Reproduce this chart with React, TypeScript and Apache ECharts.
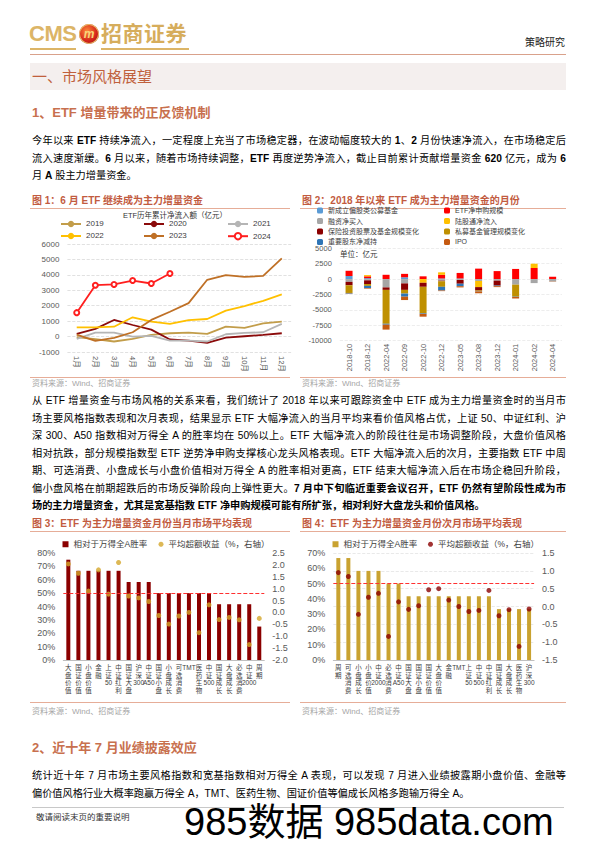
import React, { useEffect, useRef } from "react";
import * as echarts from "echarts";

const FONT = '"Liberation Sans", "Noto Sans CJK SC", sans-serif';

// ---------- Chart 1 data ----------
const months = ["1月", "2月", "3月", "4月", "5月", "6月", "7月", "8月", "9月", "10月", "11月", "12月"];
const flow2019 = [-40, -170, -320, -150, 110, 215, 260, 170, 645, 560, 860, 970];
const flow2020 = [170, 500, 1075, 750, 450, -190, -260, -410, -70, 20, 110, 215];
const flow2021 = [-150, 260, 260, 0, 40, -260, -260, -320, 150, 240, 280, 820];
const flow2022 = [600, 600, 640, 1250, 970, 820, 1070, 1140, 1680, 1980, 2320, 2730];
const flow2023 = [130, -280, -90, 280, 1080, 1610, 2170, 3680, 3980, 3870, 3930, 5070];
const flow2024 = [1550, 3330, 3380, 3630, 3440, 4090];

// ---------- Chart 2 data ----------
const periods = ["2018-10", "2018-12", "2022-04", "2022-09", "2022-10", "2022-12", "2023-05", "2023-08", "2023-12", "2024-01", "2024-02", "2024-04"];
const newFunds = [500, 150, 0, 300, 0, 100, 100, 0, 0, 0, 0, 0];
const etfNet = [850, 300, 700, 550, 450, 600, 900, 1700, 1300, 1650, 1800, 400];
const margin = [-450, -200, -1350, -700, 0, -250, -150, -300, -250, -900, -650, -400];
const northbound = [0, 200, 0, 0, -600, 400, 0, -1000, 0, 0, 700, 0];
const insurance = [-550, -600, -400, -1050, -650, -100, -600, -550, -800, 0, 0, 0];
const privateFunds = [-1250, -300, -5500, -600, -4300, -900, 0, -100, 0, -1950, 0, 0];
const holderReduce = [-100, -350, -150, -500, -100, -600, -400, -50, -100, -50, 0, 0];
const ipo = [-50, -100, -800, -550, -450, -100, -200, -300, -150, -250, 0, -50];

// ---------- Chart 3 data ----------
const cats3 = ["大盘价值", "国证价值", "小盘价值", "金融", "上证50", "中证红利", "国证大盘", "沪深300", "中证A50", "国证小盘", "小盘成长", "可选消费", "TMT", "医药生物", "中证500", "国证成长", "大盘成长", "必选消费", "中证2000", "周期"];
const win3 = [75, 66.7, 66.7, 66.7, 66.7, 66.7, 58.3, 58.3, 58.3, 50, 50, 50, 50, 50, 50, 41.7, 41.7, 41.7, 41.7, 25];
const excess3 = [2.04, 1.65, 0.9, 1.79, 0.77, 2.1, 0.69, 0.61, 0.46, -0.13, -0.49, -0.15, 0.0, -0.85, 0.32, -0.3, -0.21, -0.31, -1.35, -0.25];

// ---------- Chart 4 data ----------
const cats4 = ["周期", "可选消费", "小盘成长", "小盘价值", "中证2000", "必选消费", "中证A50", "国证大盘", "国证小盘", "国证价值", "大盘价值", "金融", "TMT", "上证50", "中证500", "中证红利", "国证成长", "大盘成长", "医药生物", "沪深300"];
const win4 = [66.7, 66.7, 58.3, 58.3, 58.3, 50, 50, 41.7, 41.7, 41.7, 41.7, 41.7, 41.7, 41.7, 41.7, 41.7, 33.3, 33.3, 33.3, 33.3];
const excess4 = [0.95, 0.84, -0.22, 0.26, 0.37, -0.84, 0.13, -0.08, 0.02, 0.47, 0.5, 0.18, 0.0, -0.14, -0.11, 0.45, -0.26, -0.09, -1.12, -0.07];

const vert = (s: string) => (s.match(/[A-Za-z0-9]+|./g) || []).join("\n");
const plain = (v: number) => String(v);
const AX = "#595959";

const lineSeries = (name: string, data: number[], color: string) => ({
  name, type: "line", data, symbol: "none", lineStyle: { width: 1.8, color }, itemStyle: { color },
});

const option1: any = {
  animation: false,
  textStyle: { fontFamily: FONT },
  graphic: [{ type: "text", x: 145, y: 7, style: { text: "ETF历年累计净流入额（亿元）", align: "center", verticalAlign: "middle", fontSize: 7.5, fill: "#333", fontFamily: FONT } }],
  legend: [
    { data: ["2019", "2022"], left: 30, top: 12, orient: "vertical", itemWidth: 20, itemHeight: 8, itemGap: 4, padding: 0, textStyle: { fontSize: 8, color: "#404040" } },
    { data: ["2020", "2023"], left: 113, top: 12, orient: "vertical", itemWidth: 20, itemHeight: 8, itemGap: 4, padding: 0, textStyle: { fontSize: 8, color: "#404040" } },
    { data: ["2021", "2024"], left: 197, top: 12, orient: "vertical", itemWidth: 20, itemHeight: 8, itemGap: 4, padding: 0, textStyle: { fontSize: 8, color: "#404040" } },
  ],
  grid: { left: 37.4, right: 2.9, top: 36, bottom: 26 },
  xAxis: {
    type: "category", data: months, boundaryGap: true,
    axisLine: { show: false, onZero: false }, axisTick: { show: false },
    axisLabel: { rotate: -90, fontSize: 7.5, color: AX, margin: 4, interval: 0 },
  },
  yAxis: {
    type: "value", min: -1000, max: 6000, interval: 1000,
    axisLabel: { fontSize: 8, color: AX, margin: 8, formatter: plain },
    axisLine: { show: false }, axisTick: { show: false },
    splitLine: { lineStyle: { type: "dashed", color: "#d9d9d9", width: 0.8 } },
  },
  series: [
    lineSeries("2019", flow2019, "#c29d4a"),
    lineSeries("2020", flow2020, "#8b0a0a"),
    lineSeries("2021", flow2021, "#b5b5b5"),
    lineSeries("2022", flow2022, "#ffc000"),
    lineSeries("2023", flow2023, "#bf7026"),
    { name: "2024", type: "line", data: flow2024, symbol: "emptyCircle", symbolSize: 5, lineStyle: { width: 1.8, color: "#ff1f1f" }, itemStyle: { color: "#ff1f1f", borderWidth: 1 } },
  ],
};

const barSeries = (name: string, data: number[], color: string) => ({
  name, type: "bar", stack: "total", data, barWidth: 7, itemStyle: { color },
});

const option2: any = {
  animation: false,
  textStyle: { fontFamily: FONT },
  graphic: [{ type: "text", x: 40, y: 50, style: { text: "单位：亿元", verticalAlign: "middle", fontSize: 7.5, fill: "#333", fontFamily: FONT } }],
  legend: [
    { data: ["新成立偏股类公募基金", "融资净买入", "保险投资股票及基金规模变化", "重要股东净减持"], left: 17, top: 3, orient: "vertical", itemWidth: 6, itemHeight: 6, itemGap: 3.5, padding: 0, textStyle: { fontSize: 7, color: "#404040" } },
    { data: ["ETF净申购规模", "陆股通净流入", "私募基金管理规模变化", "IPO"], left: 144, top: 3, orient: "vertical", itemWidth: 6, itemHeight: 6, itemGap: 3.5, padding: 0, textStyle: { fontSize: 7, color: "#404040" } },
  ],
  grid: { left: 39.8, right: 4.1, top: 44.3, bottom: 37.3 },
  xAxis: {
    type: "category", data: periods,
    axisLine: { show: false, onZero: false }, axisTick: { show: false },
    axisLabel: { rotate: 90, fontSize: 7.5, color: AX, margin: 3, interval: 0 },
  },
  yAxis: {
    type: "value", min: -10000, max: 5000, interval: 2500,
    axisLabel: { fontSize: 7.5, color: AX, margin: 8, formatter: plain },
    axisLine: { show: false }, axisTick: { show: false },
    splitLine: { lineStyle: { type: "dashed", color: "#e8e8e8", width: 0.8 } },
  },
  series: [
    barSeries("新成立偏股类公募基金", newFunds, "#5b9bd5"),
    barSeries("ETF净申购规模", etfNet, "#ff0000"),
    barSeries("融资净买入", margin, "#a6a6a6"),
    barSeries("陆股通净流入", northbound, "#ffc000"),
    barSeries("保险投资股票及基金规模变化", insurance, "#8b0000"),
    barSeries("私募基金管理规模变化", privateFunds, "#bf9000"),
    barSeries("重要股东净减持", holderReduce, "#2e75b6"),
    barSeries("IPO", ipo, "#c55a11"),
  ],
};

const makeWinOption = (cats: string[], win: number[], exc: number[], barColor: string, dotColor: string, leftMax: number, rMin: number, rMax: number, rightGrid: number, legend2Left: number, rightSplit: boolean) => ({
  animation: false,
  textStyle: { fontFamily: FONT },
  legend: [
    { data: [{ name: "相对于万得全A胜率", icon: "rect" }], left: 32.5, top: 5, itemWidth: 6, itemHeight: 6, padding: 0, textStyle: { fontSize: 8.5, color: "#404040" } },
    { data: [{ name: "平均超额收益（%，右轴）", icon: "circle" }], left: legend2Left, top: 5, itemWidth: 5, itemHeight: 5, padding: 0, textStyle: { fontSize: 8.5, color: "#404040" } },
  ],
  grid: { left: 33.3, right: rightGrid, top: 18, bottom: 43 },
  xAxis: {
    type: "category", data: cats,
    axisLine: { lineStyle: { color: "#bfbfbf" } }, axisTick: { show: false },
    axisLabel: { interval: 0, formatter: vert, fontSize: 6.5, lineHeight: 7.5, color: "#404040", margin: 4 },
  },
  yAxis: [
    {
      type: "value", min: 0, max: leftMax, interval: 10,
      axisLabel: { formatter: "{value}%", fontSize: 9, color: AX, margin: 8 },
      axisLine: { show: false }, axisTick: { show: false }, splitLine: { show: false },
    },
    {
      type: "value", min: rMin, max: rMax, interval: 0.5,
      axisLabel: { formatter: (v: number) => v.toFixed(1), fontSize: 9, color: AX, margin: 8 },
      axisLine: { show: false }, axisTick: { show: false },
      splitLine: { show: rightSplit, lineStyle: { type: "dashed", color: "#e3e3e3", width: 0.8 } },
    },
  ],
  series: [
    {
      name: "相对于万得全A胜率", type: "bar", data: win, barWidth: 4, itemStyle: { color: barColor },
      markLine: { silent: true, symbol: "none", label: { show: false }, lineStyle: { color: "#ff3030", type: "dashed", width: 1 }, data: [{ yAxis: 50 }] },
    },
    { name: "平均超额收益（%，右轴）", type: "scatter", yAxisIndex: 1, data: exc, symbolSize: 5, itemStyle: { color: dotColor } },
  ],
});

const option3: any = makeWinOption(cats3, win3, excess3, "#8b0000", "#d4a62a", 80, -2, 2.5, 27.7, 128.5, false);
const option4: any = makeWinOption(cats4, win4, excess4, "#c9a230", "#8b0000", 70, -1.5, 1.5, 31.9, 128, true);

function EChart({ option, left, top, width, height }: any) {
  const ref = useRef<HTMLDivElement>(null);
  useEffect(() => {
    const chart = echarts.init(ref.current as HTMLDivElement, null, { renderer: "svg" });
    chart.setOption(option);
    return () => chart.dispose();
  }, [option]);
  return <div ref={ref} style={{ position: "absolute", left, top, width, height }} />;
}

const PITCH = 17.5;
const TXT = 10.2;

function Line({ y, children, justify = true, bold = false, x = 32, w = 534, size = TXT, color = "#000" }: any) {
  return (
    <div
      style={{
        position: "absolute", left: x, top: y - PITCH / 2, width: w, height: PITCH,
        lineHeight: PITCH + "px", fontSize: size, color, fontWeight: bold ? 700 : 400,
        textAlign: justify ? "justify" : "left", textAlignLast: justify ? "justify" : "auto",
        whiteSpace: justify ? "normal" : "nowrap",
      } as any}
    >
      {children}
    </div>
  );
}

const boldLatin = (s: string) =>
  (s.match(/[A-Za-z0-9%]+|[^A-Za-z0-9%]+/g) || []).map((p, i) =>
    /[A-Za-z0-9]/.test(p) ? <b key={i}>{p}</b> : <span key={i}>{p}</span>
  );

const TITLE_C = "#c25b3f";
const RULE_C = "#e6ad98";

function FigTitle({ x, y, w, text }: any) {
  return (
    <>
      <div style={{ position: "absolute", left: x + 2, top: y - 8, height: 16, lineHeight: "16px", fontSize: 10, fontWeight: 700, color: TITLE_C, whiteSpace: "nowrap" }}>{text}</div>
      <div style={{ position: "absolute", left: x, top: y + 7, width: w, height: 1, background: RULE_C }} />
    </>
  );
}

function Source({ x, y, w, rule }: any) {
  return (
    <>
      <div style={{ position: "absolute", left: x, top: rule, width: w, height: 1, background: RULE_C }} />
      <div style={{ position: "absolute", left: x + 2, top: y - 6, height: 12, lineHeight: "12px", fontSize: 8, color: "#a6a6a6", whiteSpace: "nowrap" }}>资料来源：Wind、招商证券</div>
    </>
  );
}

export default function App() {
  useEffect(() => {
    document.body.style.margin = "0";
  }, []);
  const p2 = 401;
  return (
    <div style={{ position: "relative", width: 596, height: 842, background: "#fff", overflow: "hidden", fontFamily: FONT, color: "#000" }}>
      {/* header */}
      <div style={{ position: "absolute", left: 29, top: 22, fontSize: 22, fontWeight: 700, color: "#dcb567", lineHeight: "24px", letterSpacing: -0.5 }}>CMS</div>
      <div style={{ position: "absolute", left: 30, top: 48, width: 46, height: 1.5, background: "#dcb567" }} />
      <div style={{ position: "absolute", left: 79, top: 24, width: 20, height: 20, borderRadius: 10, background: "radial-gradient(circle at 40% 35%, #ff8a3a, #d4251b 55%, #8a0d10)", boxShadow: "0 0 0 1px #e7c06a inset" }}>
        <div style={{ position: "absolute", left: 0, top: 0, width: 20, height: 20, lineHeight: "20px", textAlign: "center", fontSize: 12, fontWeight: 700, fontStyle: "italic", color: "#f7d67a" }}>m</div>
      </div>
      <div style={{ position: "absolute", left: 101, top: 22, fontSize: 21, fontWeight: 700, color: "#d6ad5c", lineHeight: "24px", letterSpacing: 0.5, whiteSpace: "nowrap" }}>招商证券</div>
      <div style={{ position: "absolute", left: 101, top: 48, width: 88, height: 1.5, background: "#dcb567" }} />
      <div style={{ position: "absolute", left: 525, top: 36, fontSize: 10, lineHeight: "14px", color: "#222", whiteSpace: "nowrap" }}>策略研究</div>
      <div style={{ position: "absolute", left: 30, top: 54, width: 536, height: 1, background: "#d9a18b" }} />

      {/* section band */}
      <div style={{ position: "absolute", left: 30, top: 63, width: 536, height: 27, background: "#f4efee" }} />
      <div style={{ position: "absolute", left: 32, top: 63, height: 27, lineHeight: "27px", fontSize: 15, color: "#c0603c", whiteSpace: "nowrap" }}>一、市场风格展望</div>

      <div style={{ position: "absolute", left: 32, top: 104, height: 18, lineHeight: "18px", fontSize: 13, fontWeight: 700, color: "#c8704e", whiteSpace: "nowrap" }}>1、ETF 增量带来的正反馈机制</div>

      {/* paragraph 1 */}
      <Line y={141}>{boldLatin("今年以来 ETF 持续净流入，一定程度上充当了市场稳定器，在波动幅度较大的 1、2 月份快速净流入，在市场稳定后")}</Line>
      <Line y={141 + PITCH}>{boldLatin("流入速度渐缓。6 月以来，随着市场持续调整，ETF 再度逆势净流入，截止目前累计贡献增量资金 620 亿元，成为 6")}</Line>
      <Line y={141 + 2 * PITCH} justify={false}>{boldLatin("月 A 股主力增量资金。")}</Line>

      {/* figure 1 & 2 */}
      <FigTitle x={30} y={201} w={260} text="图 1：6 月 ETF 继续成为主力增量资金" />
      <FigTitle x={300} y={201} w={266} text="图 2：2018 年以来 ETF 成为主力增量资金的月份" />
      <EChart option={option1} left={30} top={208} width={264} height={170} />
      <EChart option={option2} left={300} top={204} width={266} height={174} />
      <Source x={30} y={384} w={260} rule={377} />
      <Source x={300} y={384} w={266} rule={377} />

      {/* paragraph 2 */}
      <Line y={p2}>从 ETF 增量资金与市场风格的关系来看，我们统计了 2018 年以来可跟踪资金中 ETF 成为主力增量资金时的当月市</Line>
      <Line y={p2 + PITCH}>场主要风格指数表现和次月表现，结果显示 ETF 大幅净流入的当月平均来看价值风格占优，上证 50、中证红利、沪</Line>
      <Line y={p2 + 2 * PITCH}>深 300、A50 指数相对万得全 A 的胜率均在 50%以上。ETF 大幅净流入的阶段往往是市场调整阶段，大盘价值风格</Line>
      <Line y={p2 + 3 * PITCH}>相对抗跌，部分规模指数型 ETF 逆势净申购支撑核心龙头风格表现。ETF 大幅净流入后的次月，主要指数 ETF 中周</Line>
      <Line y={p2 + 4 * PITCH}>期、可选消费、小盘成长与小盘价值相对万得全 A 的胜率相对更高，ETF 结束大幅净流入后在市场企稳回升阶段，</Line>
      <Line y={p2 + 5 * PITCH}>偏小盘风格在前期超跌后的市场反弹阶段向上弹性更大。<b>7 月中下旬临近重要会议召开，ETF 仍然有望阶段性成为市</b></Line>
      <Line y={p2 + 6 * PITCH} justify={false} bold>场的主力增量资金，尤其是宽基指数 ETF 净申购规模可能有所扩张，相对利好大盘龙头和价值风格。</Line>

      {/* figure 3 & 4 */}
      <FigTitle x={30} y={524} w={260} text="图 3：ETF 为主力增量资金月份当月市场平均表现" />
      <FigTitle x={300} y={524} w={266} text="图 4：ETF 为主力增量资金月份次月市场平均表现" />
      <EChart option={option3} left={30} top={535} width={262} height={168} />
      <EChart option={option4} left={300} top={535} width={266} height={168} />
      <Source x={30} y={712} w={260} rule={702} />
      <Source x={300} y={712} w={266} rule={702} />

      <div style={{ position: "absolute", left: 32, top: 739, height: 18, lineHeight: "18px", fontSize: 13, fontWeight: 700, color: "#c8704e", whiteSpace: "nowrap" }}>2、近十年 7 月业绩披露效应</div>

      <Line y={776}>统计近十年 7 月市场主要风格指数和宽基指数相对万得全 A 表现，可以发现 7 月进入业绩披露期小盘价值、金融等</Line>
      <Line y={776 + PITCH} justify={false}>偏价值风格行业大概率跑赢万得全 A，TMT、医药生物、国证价值等偏成长风格多跑输万得全 A。</Line>

      <div style={{ position: "absolute", left: 32, top: 807, width: 532, height: 1, background: "#c8c8c8" }} />
      <div style={{ position: "absolute", left: 36, top: 811, height: 12, lineHeight: "12px", fontSize: 8.5, color: "#333", whiteSpace: "nowrap" }}>敬请阅读末页的重要说明</div>

      <div style={{ position: "absolute", left: 184, top: 804, height: 37, lineHeight: "37px", fontSize: 38, color: "#000", whiteSpace: "nowrap" }}>985数据 985data.com</div>
    </div>
  );
}
